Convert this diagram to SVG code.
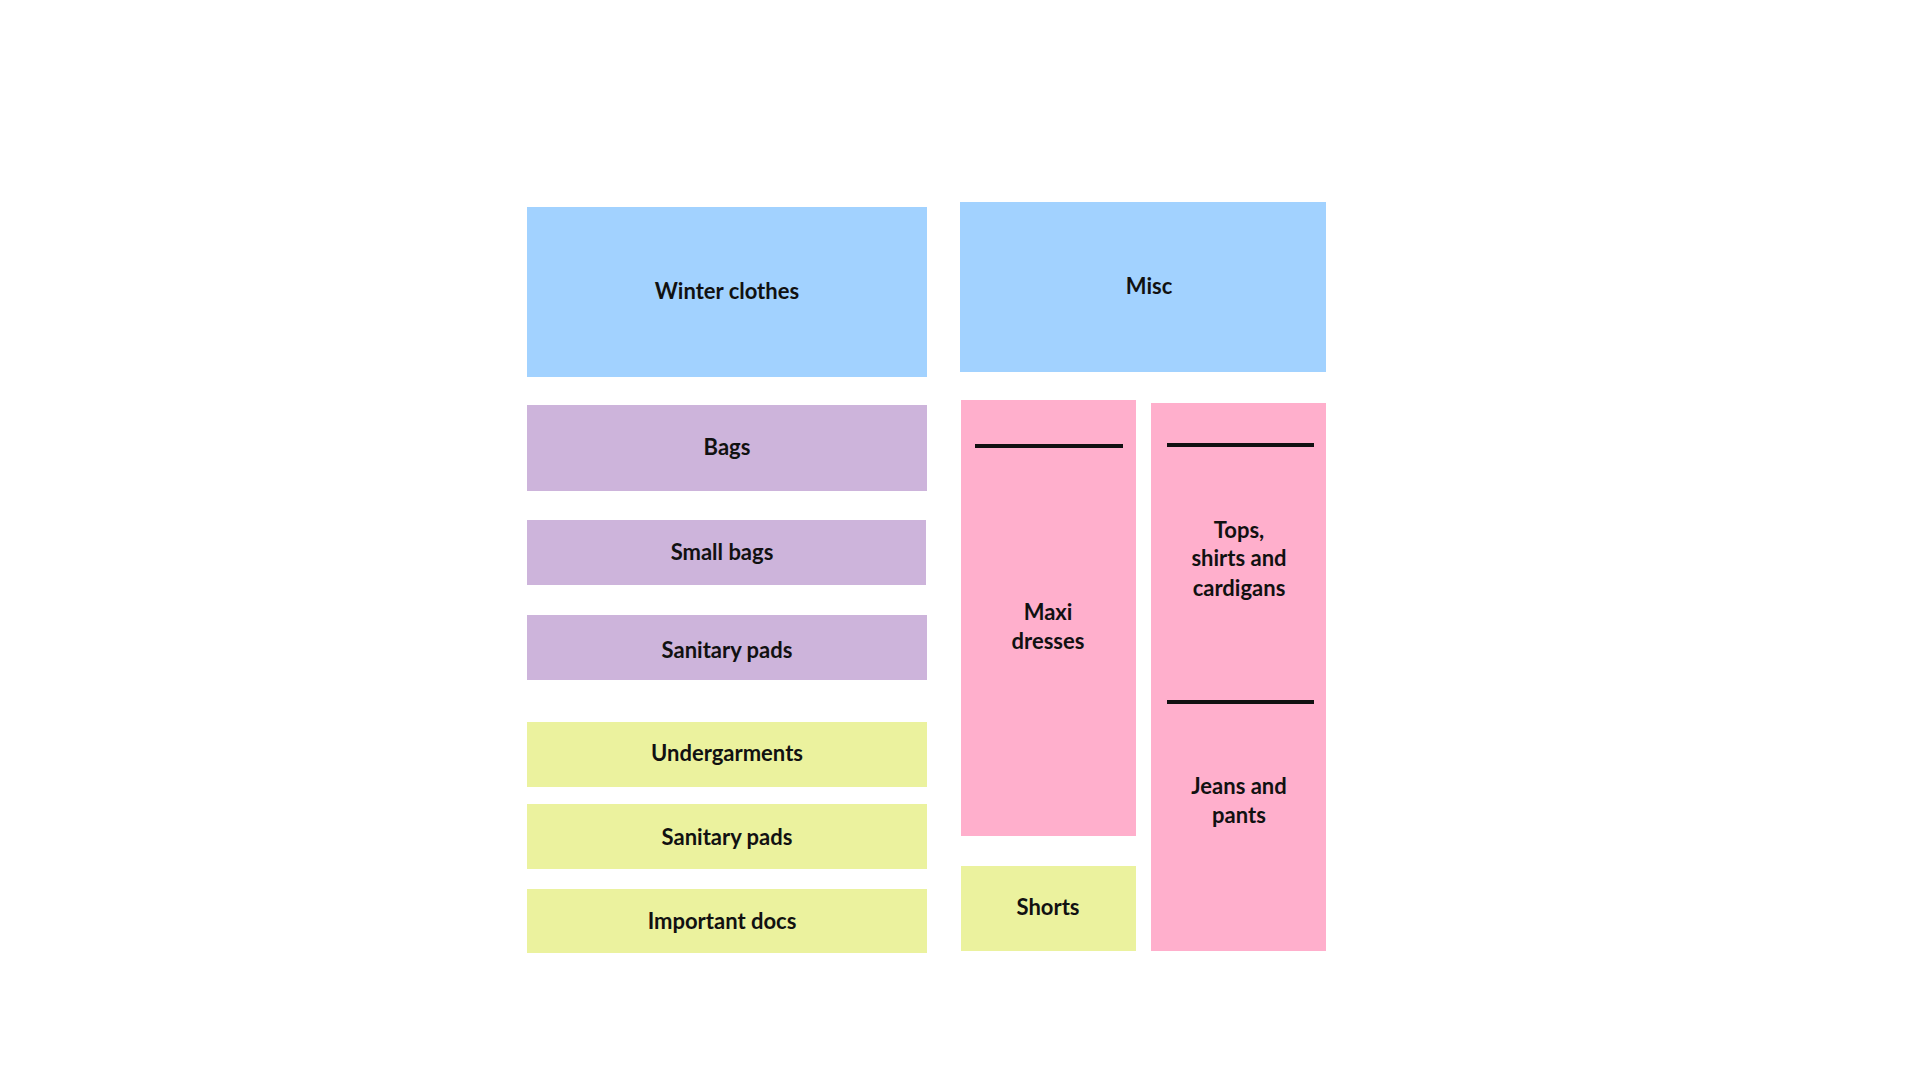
<svg xmlns="http://www.w3.org/2000/svg" width="1920" height="1080" viewBox="0 0 1920 1080">
<style>
.lbl{font-family:Lato,"Noto Sans","Liberation Sans",sans-serif;font-weight:700;font-size:22px;fill:#111;text-anchor:middle}
.blue{fill:#A2D2FF}.purple{fill:#CDB4DB}.yellow{fill:#EBF29E}.pink{fill:#FFAFCC}
.div{stroke:#111;stroke-width:4}
</style>
<rect width="1920" height="1080" fill="#fff"/>
<g id="winter"><rect class="blue" x="527" y="207" width="400" height="170"/><text class="lbl" x="727" y="299">Winter clothes</text></g>
<g id="misc"><rect class="blue" x="960" y="202" width="366" height="170"/><text class="lbl" x="1149" y="294">Misc</text></g>
<g id="bags"><rect class="purple" x="527" y="405" width="400" height="86"/><text class="lbl" x="727" y="455">Bags</text></g>
<g id="smallbags"><rect class="purple" x="527" y="520" width="399" height="65"/><text class="lbl" x="722" y="560">Small bags</text></g>
<g id="sanitary1"><rect class="purple" x="527" y="615" width="400" height="65"/><text class="lbl" x="727" y="658">Sanitary pads</text></g>
<g id="undergarments"><rect class="yellow" x="527" y="722" width="400" height="65"/><text class="lbl" x="727" y="761">Undergarments</text></g>
<g id="sanitary2"><rect class="yellow" x="527" y="804" width="400" height="65"/><text class="lbl" x="727" y="845">Sanitary pads</text></g>
<g id="docs"><rect class="yellow" x="527" y="889" width="400" height="64"/><text class="lbl" x="722" y="929">Important docs</text></g>
<g id="maxi"><rect class="pink" x="961" y="400" width="175" height="436"/><line class="div" x1="975" y1="446" x2="1123" y2="446"/><text class="lbl" x="1048" y="620">Maxi</text><text class="lbl" x="1048" y="649">dresses</text></g>
<g id="shorts"><rect class="yellow" x="961" y="866" width="175" height="85"/><text class="lbl" x="1048" y="915">Shorts</text></g>
<g id="tops"><rect class="pink" x="1151" y="403" width="175" height="548"/><line class="div" x1="1167" y1="445" x2="1314" y2="445"/><line class="div" x1="1167" y1="702" x2="1314" y2="702"/><text class="lbl" x="1239" y="538">Tops,</text><text class="lbl" x="1239" y="566">shirts and</text><text class="lbl" x="1239" y="596">cardigans</text><text class="lbl" x="1239" y="794">Jeans and</text><text class="lbl" x="1239" y="823">pants</text></g>
<g id="connectors"/>
</svg>
